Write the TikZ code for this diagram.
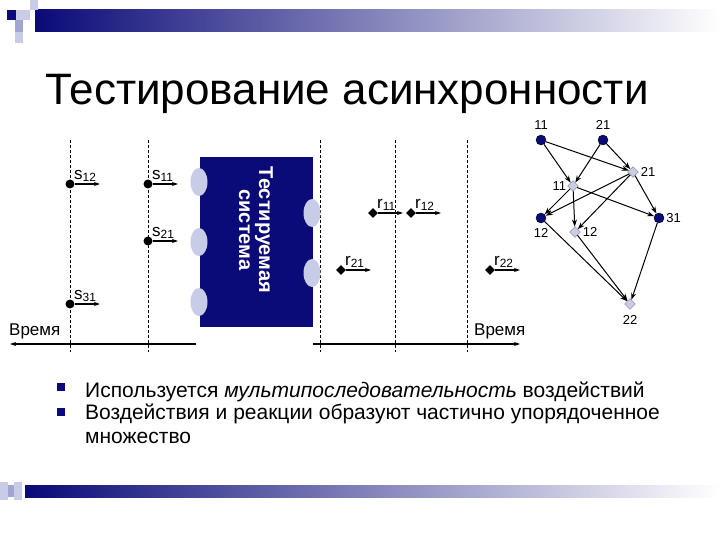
\documentclass[tikz,border=0pt]{standalone}
\usepackage{fontspec}
\setmainfont{Liberation Sans}
\usetikzlibrary{arrows.meta,shapes.geometric,positioning}
\definecolor{navy}{RGB}{10,10,120}
\definecolor{lav}{RGB}{200,204,230}
\definecolor{lav2}{RGB}{160,165,210}
\tikzset{
  dl/.style={densely dashed,line width=0.6pt},
  arr/.style={-{Stealth[length=6pt,width=4pt]},line width=1.2pt},
  sdot/.style={circle,fill=black,inner sep=0pt,minimum size=9pt},
  rdia/.style={diamond,fill=black,inner sep=0pt,minimum size=10pt},
  gc/.style={circle,fill=navy,draw=black,inner sep=0pt,minimum size=10pt},
  gd/.style={diamond,fill=lav,draw=gray,inner sep=0pt,minimum size=11pt},
  ge/.style={-{Stealth[length=7pt,width=5pt]},line width=1pt},
  lab/.style={font=\fontsize{17}{17}\selectfont,inner sep=1pt},
  glab/.style={font=\fontsize{13}{13}\selectfont,inner sep=1pt},
  port/.style={ellipse,fill=lav,minimum width=17pt,minimum height=28pt,inner sep=0pt},
}
\begin{document}
\begin{tikzpicture}[x=1pt,y=-1pt]
\useasboundingbox (0,0) rectangle (720,540);
% top decoration
\shade[left color=navy,right color=white] (35,10) rectangle (720,32);
\fill[navy] (7,10) rectangle (16,20);
\fill[lav] (16,10) rectangle (30,20);
\fill[lav] (30,0) rectangle (38,10);
\fill[lav2] (15,20) rectangle (23,32);
\fill[lav] (15,32) rectangle (23,43);
% bottom decoration
\shade[left color=navy,right color=white] (25,485) rectangle (720,497);
\fill[lav] (0,482) rectangle (8,500);
\fill[lav2] (8,485) rectangle (14,497);
\fill[lav] (14,482) rectangle (22,500);
% title
\node[anchor=base west,inner sep=0pt,font=\fontsize{44}{44}\selectfont] (title) at (45,105) {Тестирование асинхронности};
% dashed lines
\foreach \x/\n in {70/a,148/b,320/c,395/d,467/e}
  \draw[dl] (\x,140) coordinate (t\n) -- (\x,352) coordinate (b\n);
% box
\node[fill=navy,minimum width=113pt,minimum height=170pt,inner sep=0pt] (box) at (256,242) {};
\node[rotate=-90,text=white,font=\bfseries\fontsize{20}{20}\selectfont,align=center] (boxt) at (256,230) {Тестируемая\\система};
\foreach \y/\n in {182/1,242/2,302/3} \node[port] (pl\n) at (199,\y) {};
\foreach \y/\n in {213/1,273/2} \node[port] (pr\n) at (312,\y) {};
% time axes
\coordinate (tl1) at (196,344); \coordinate (tl2) at (10,344);
\draw[arr] (tl1) -- (tl2);
\node[lab,anchor=south west] (vl) at (8,340) {Время};
\coordinate (tr1) at (313,344); \coordinate (tr2) at (520,344);
\draw[arr] (tr1) -- (tr2);
\node[lab,anchor=south west] (vr) at (473,340) {Время};
% s points
\foreach \x/\y/\n/\s in {70/184/s12/12,148/184/s11/11,148/241/s21/21,70/304/s31/31}{
  \node[sdot] (\n) at (\x,\y) {};
  \coordinate (\n e) at (\x+30,\y);
  \draw[arr] (\n) -- (\n e);
  \node[lab,anchor=south west] (\n l) at (\x+3,\y-1) {s\textsubscript{\s}};
}
% r points
\foreach \x/\y/\n/\s in {373/213/r11/11,411/213/r12/12,341/270/r21/21,490/270/r22/22}{
  \node[rdia] (\n) at (\x,\y) {};
  \coordinate (\n e) at (\x+30,\y);
  \draw[arr] (\n) -- (\n e);
  \node[lab,anchor=south west] (\n l) at (\x+3,\y-1) {r\textsubscript{\s}};
}
% graph
\node[gc] (A11) at (541,140) {};
\node[gc] (A21) at (603,140) {};
\node[gd] (D21) at (633,172) {};
\node[gd] (D11) at (573,186) {};
\node[gc] (C12) at (541,218) {};
\node[gd] (D12) at (575,232) {};
\node[gc] (C31) at (659,218) {};
\node[gd] (D22) at (630,304) {};
\node[glab,above=4pt of A11] (lA11) {11};
\node[glab,above=4pt of A21] (lA21) {21};
\node[glab,right=1pt of D21] (lD21) {21};
\node[glab,left=0pt of D11] (lD11) {11};
\node[glab,below=4pt of C12] (lC12) {12};
\node[glab,right=1pt of D12] (lD12) {12};
\node[glab,right=1pt of C31] (lC31) {31};
\node[glab,below=5pt of D22] (lD22) {22};
\foreach \a/\b in {A11/D11,A11/D21,A21/D11,A21/D21,D11/C12,D11/D12,D11/C31,D21/C12,D21/D12,D21/C31,C12/D22,D12/D22,C31/D22}
  \draw[ge] (\a) -- (\b);
% bullets
\fill[navy] (57,383) rectangle (65,391);
\fill[navy] (57,408) rectangle (65,416);
\coordinate (b1) at (61,387); \coordinate (b2) at (61,412);
\node[anchor=base west,inner sep=0pt,font=\fontsize{21}{24}\selectfont] (t1) at (85,397) {Используется \textit{мультипоследовательность} воздействий};
\node[anchor=north west,inner sep=0pt,font=\fontsize{21}{24}\selectfont,align=left] (t2) at (85,404) {Воздействия и реакции образуют частично упорядоченное\\множество};
\end{tikzpicture}
\end{document}
